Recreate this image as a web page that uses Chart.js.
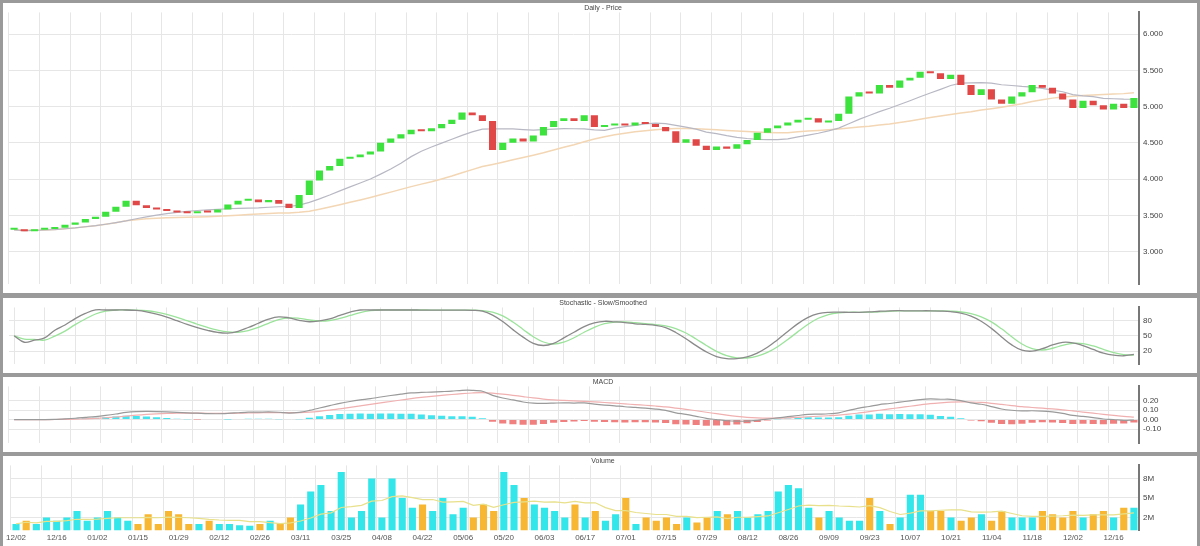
<!DOCTYPE html>
<html>
<head>
<meta charset="utf-8">
<script src="https://cdn.jsdelivr.net/npm/chart.js@4"></script>
<style>
  body { margin: 0; background: #9a9a9a; width: 1200px; height: 546px; overflow: hidden; font-family: "DejaVu Sans", sans-serif; }
  .pane { position: absolute; left: 3px; width: 1194px; background: #fff; }
</style>
</head>
<body>
<div class="pane" style="top:3px;height:290px"><canvas id="priceChart"></canvas></div>
<div class="pane" style="top:298px;height:75px"><canvas id="stochChart"></canvas></div>
<div class="pane" style="top:377px;height:75px"><canvas id="macdChart"></canvas></div>
<div class="pane" style="top:456px;height:90px"><canvas id="volChart"></canvas></div>
<script>
// closes, one per candle
var closes = [3.30,3.28,3.30,3.31,3.33,3.37,3.40,3.45,3.48,3.55,
              3.62,3.70,3.64,3.60,3.58,3.56,3.54,3.53,3.55,3.54,
              3.58,3.65,3.70,3.72,3.68,3.71,3.66,3.60,3.78,3.98,
              4.12,4.18,4.28,4.30,4.34,4.38,4.50,4.56,4.62,4.68,
              4.66,4.70,4.76,4.82,4.92,4.88,4.80,4.40,4.50,4.56,
              4.52,4.60,4.72,4.80,4.84,4.80,4.88,4.72,4.74,4.76,
              4.74,4.78,4.76,4.72,4.66,4.50,4.55,4.46,4.40,4.45,
              4.42,4.48,4.54,4.64,4.70,4.74,4.78,4.82,4.84,4.78,
              4.80,4.90,5.14,5.20,5.18,5.30,5.26,5.36,5.40,5.48,
              5.46,5.38,5.44,5.30,5.16,5.24,5.10,5.04,5.14,5.20,
              5.30,5.26,5.18,5.10,4.98,5.08,5.02,4.96,5.04,4.98,
              5.12];
var volumes = [1,1.5,1,2,1.5,2,3,1.5,2,3,
               2,1.5,1,2.5,1,3,2.5,1,1,1.5,
               1,1,0.8,0.7,1,1.5,1,2,4,6,
               7,3,9,2,3,8,2,8,5,3.5,
               4,3,5,2.5,3.5,2,4,3,9,7,
               5,4,3.5,3,2,4,2,3,1.5,2.5,
               5,1,2,1.5,2,1,2,1.2,2,3,
               2.5,3,2,2.5,3,6,7,6.5,3.5,2,
               3,2,1.5,1.5,5,3,1,2,5.5,5.5,
               3,3,2,1.5,2,2.5,1.5,3,2,2,
               2,3,2.5,2,3,2,2.5,3,2,3.5,
               3.5];
var dateTicks = ["12/02","12/16","01/02","01/15","01/29","02/12","02/26","03/11","03/25","04/08",
                 "04/22","05/06","05/20","06/03","06/17","07/01","07/15","07/29","08/12","08/26",
                 "09/09","09/23","10/07","10/21","11/04","11/18","12/02","12/16"];
var priceTicks = [3.0,3.5,4.0,4.5,5.0,5.5,6.0];

var labels = closes.map(function(c, i) { return i; });
var opens = closes.map(function(c, i) { return i == 0 ? c : closes[i - 1]; });
var bodies = closes.map(function(c, i) { return [opens[i], c]; });
var bodyColors = closes.map(function(c, i) { return c >= opens[i] ? "#3ee23e" : "#e04848"; });

function ema(arr, p) {
    var a = 2 / (p + 1), out = [], prev = arr[0];
    arr.forEach(function(v) { prev = v * a + prev * (1 - a); out.push(prev); });
    return out;
}
function smaFill(arr, p) {
    return arr.map(function(v, i) {
        var st = Math.max(0, i - p + 1), s = 0;
        for (var k = st; k <= i; k++) s += arr[k];
        return s / (i - st + 1);
    });
}

var ma20 = smaFill(closes, 12);
var ma50 = smaFill(closes, 30);

// stochastic from closes
var rawK = closes.map(function(c, i) {
    var st = Math.max(0, i - 13), lo = 1e9, hi = -1e9;
    for (var k = st; k <= i; k++) { lo = Math.min(lo, closes[k]); hi = Math.max(hi, closes[k]); }
    return hi == lo ? 50 : (c - lo) / (hi - lo) * 100;
});
var stochK = smaFill(smaFill(rawK, 5), 3);
var stochD = smaFill(stochK, 3);

var ema12 = ema(closes, 12), ema26 = ema(closes, 26);
var macdLine = ema12.map(function(v, i) { return v - ema26[i]; });
var macdSignal = ema(macdLine, 9);
var macdHist = macdLine.map(function(v, i) { return v - macdSignal[i]; });

var volMa = smaFill(volumes, 10);
var volColors = closes.map(function(c, i) { return c >= opens[i] ? "#33e6ea" : "#f7b733"; });

var gridColor = function(ctx) { return ctx.index % 3 == 0 ? "#e6e6e6" : "rgba(0,0,0,0)"; };
function fixWidth(scale) { scale.width = 58; }

function xAxis(showTicks) {
    return {
        offset: true,
        grid: { color: gridColor, drawTicks: false },
        border: { display: false },
        ticks: {
            display: showTicks, autoSkip: false, maxRotation: 0,
            font: { size: 8 }, color: "#555",
            callback: function(v, i) { return i % 4 == 0 ? dateTicks[i / 4] : ""; }
        }
    };
}
function titleOpt(text) {
    return { display: true, text: text, font: { size: 7, weight: "normal" }, color: "#444", padding: { top: 1, bottom: 0 } };
}
var pad = { left: 6, right: 0, top: 0, bottom: 0 };

new Chart("priceChart", {
    data: {
        labels: labels,
        datasets: [
            { type: "line", data: ma20, borderColor: "#b8b8c4", borderWidth: 1.2, pointRadius: 0, order: 1 },
            { type: "line", data: ma50, borderColor: "#f3d6b4", borderWidth: 1.5, pointRadius: 0, order: 2 },
            { type: "bar", data: bodies, backgroundColor: bodyColors, barPercentage: 0.7, categoryPercentage: 1, minBarLength: 2, order: 0 }
        ]
    },
    options: {
        animation: false, responsive: true, maintainAspectRatio: false,
        layout: { padding: pad },
        plugins: { legend: { display: false }, tooltip: { enabled: false }, title: titleOpt("Daily - Price") },
        scales: {
            x: xAxis(false),
            y: {
                position: "right", min: 2.55, max: 6.3,
                afterFit: fixWidth,
                afterBuildTicks: function(s) { s.ticks = priceTicks.map(function(v) { return { value: v }; }); },
                grid: { color: "#e6e6e6", drawTicks: false },
                border: { color: "#777", width: 2 },
                ticks: { font: { size: 8 }, color: "#444", padding: 4, callback: function(v) { return v.toFixed(3); } }
            }
        }
    }
});

new Chart("stochChart", {
    data: {
        labels: labels,
        datasets: [
            { type: "line", data: stochK, borderColor: "#8a8a8a", borderWidth: 1.3, pointRadius: 0, tension: 0.4 },
            { type: "line", data: stochD, borderColor: "#9be39b", borderWidth: 1.3, pointRadius: 0, tension: 0.4 }
        ]
    },
    options: {
        animation: false, responsive: true, maintainAspectRatio: false,
        layout: { padding: pad },
        plugins: { legend: { display: false }, tooltip: { enabled: false }, title: titleOpt("Stochastic - Slow/Smoothed") },
        scales: {
            x: xAxis(false),
            y: {
                position: "right", min: -5, max: 105, afterFit: fixWidth,
                afterBuildTicks: function(s) { s.ticks = [{ value: 20 }, { value: 50 }, { value: 80 }]; },
                grid: { color: "#e6e6e6", drawTicks: false },
                border: { color: "#777", width: 2 },
                ticks: { font: { size: 8 }, color: "#444", padding: 4 }
            }
        }
    }
});

new Chart("macdChart", {
    data: {
        labels: labels,
        datasets: [
            { type: "line", data: macdLine, borderColor: "#9a9a9a", borderWidth: 1.2, pointRadius: 0, tension: 0.3 },
            { type: "line", data: macdSignal, borderColor: "#f0b0b0", borderWidth: 1.2, pointRadius: 0, tension: 0.3 },
            { type: "bar", data: macdHist, backgroundColor: macdHist.map(function(v) { return v >= 0 ? "#44e4ee" : "#f08080"; }), barPercentage: 0.7, categoryPercentage: 1 }
        ]
    },
    options: {
        animation: false, responsive: true, maintainAspectRatio: false,
        layout: { padding: pad },
        plugins: { legend: { display: false }, tooltip: { enabled: false }, title: titleOpt("MACD") },
        scales: {
            x: xAxis(false),
            y: {
                position: "right", min: -0.25, max: 0.35, afterFit: fixWidth,
                afterBuildTicks: function(s) { s.ticks = [{ value: -0.1 }, { value: 0 }, { value: 0.1 }, { value: 0.2 }]; },
                grid: { color: "#e6e6e6", drawTicks: false },
                border: { color: "#777", width: 2 },
                ticks: { font: { size: 8 }, color: "#444", padding: 4, callback: function(v) { return v.toFixed(2); } }
            }
        }
    }
});

new Chart("volChart", {
    data: {
        labels: labels,
        datasets: [
            { type: "line", data: volMa, borderColor: "#e8e08a", borderWidth: 1.2, pointRadius: 0, order: 0 },
            { type: "bar", data: volumes, backgroundColor: volColors, barPercentage: 0.7, categoryPercentage: 1, order: 1 }
        ]
    },
    options: {
        animation: false, responsive: true, maintainAspectRatio: false,
        layout: { padding: pad },
        plugins: { legend: { display: false }, tooltip: { enabled: false }, title: titleOpt("Volume") },
        scales: {
            x: xAxis(true),
            y: {
                position: "right", min: 0, max: 10, afterFit: fixWidth,
                afterBuildTicks: function(s) { s.ticks = [{ value: 2 }, { value: 5 }, { value: 8 }]; },
                grid: { color: "#e6e6e6", drawTicks: false },
                border: { color: "#777", width: 2 },
                ticks: { font: { size: 8 }, color: "#444", padding: 4, callback: function(v) { return v + "M"; } }
            }
        }
    }
});
</script>
</body>
</html>
